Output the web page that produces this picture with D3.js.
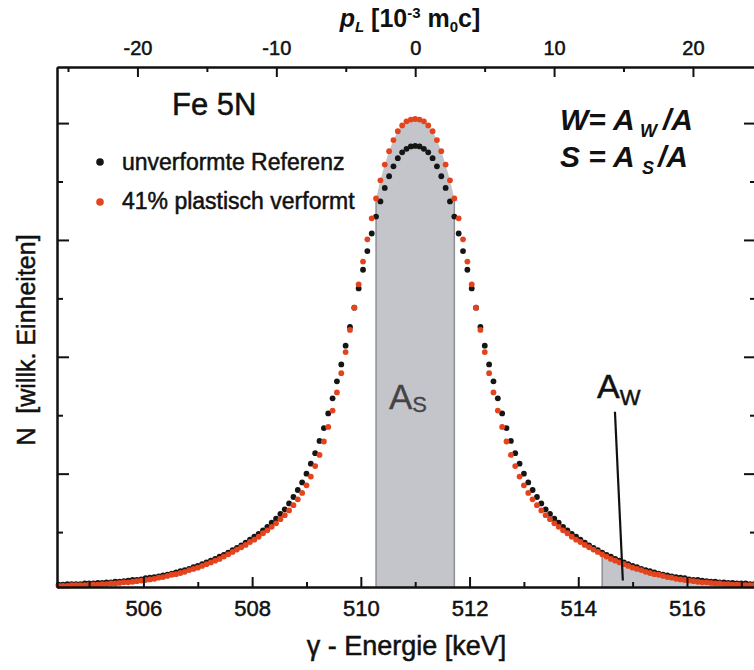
<!DOCTYPE html>
<html>
<head>
<meta charset="utf-8">
<script src="https://cdn.jsdelivr.net/npm/d3@7"></script>
<style>
  body { margin: 0; background: #fff; }
  text { font-family: "Liberation Sans", Arial, sans-serif; }
</style>
</head>
<body>
<div id="chart-area"></div>
<script>
// spectrum channels: energy of the first channel and channel width [keV]
var firstChannel = 504.44, channelWidth = 0.08;

// unverformte Referenz (black dots), one value per channel
var reference = [0.10,0.10,0.11,0.11,0.11,0.11,0.12,0.12,0.12,0.13,0.13,0.14,0.14,
  0.15,0.15,0.16,0.17,0.18,0.18,0.19,0.21,0.22,0.23,0.24,0.26,0.27,0.29,0.31,0.33,0.35,0.37,0.40,0.42,
  0.45,0.48,0.51,0.54,0.58,0.61,0.65,0.69,0.73,0.77,0.82,0.87,0.92,0.97,1.03,1.09,1.16,1.23,1.31,1.39,
  1.49,1.60,1.72,1.85,2.00,2.17,2.35,2.56,2.78,3.03,3.29,3.58,3.87,4.19,4.51,4.84,5.17,5.49,5.81,6.11,
  6.40,6.66,6.89,7.09,7.26,7.40,7.50,7.56,7.60,
  7.61,
  7.60,7.56,7.50,7.40,7.26,7.09,6.89,6.66,6.40,6.11,5.81,5.49,5.17,4.84,4.51,4.19,3.87,3.58,3.29,
  3.03,2.78,2.56,2.35,2.17,2.00,1.85,1.72,1.60,1.49,1.39,1.31,1.23,1.16,1.09,1.03,0.97,0.92,0.87,0.82,
  0.77,0.73,0.69,0.65,0.61,0.58,0.54,0.51,0.48,0.45,0.42,0.40,0.37,0.35,0.33,0.31,0.29,0.27,0.26,0.24,
  0.23,0.22,0.21,0.19,0.18,0.18,0.17,0.16,0.15,0.15,0.14,0.14,0.13,0.13,0.12,0.12,0.12,0.11,0.11];

// 41% plastisch verformt (red dots)
var deformed = [0.08,0.08,0.08,0.09,0.09,0.09,0.09,0.10,0.10,0.10,0.11,0.11,0.12,0.12,0.13,0.14,0.14,
  0.15,0.16,0.17,0.18,0.19,0.20,0.22,0.23,0.25,0.27,0.28,0.30,0.32,0.35,0.37,0.39,0.42,0.45,0.48,0.51,
  0.54,0.58,0.62,0.66,0.70,0.74,0.78,0.83,0.87,0.92,0.98,1.03,1.09,1.15,1.22,1.29,1.37,1.46,1.56,1.67,
  1.80,1.95,2.13,2.32,2.55,2.80,3.08,3.39,3.72,4.08,4.46,4.84,5.24,5.63,6.01,6.37,6.71,7.02,7.29,7.52,
  7.71,7.86,7.96,8.03,8.06,
  8.07,
  8.06,8.03,7.96,7.86,7.71,7.52,7.29,7.02,6.71,6.37,6.01,5.63,5.24,4.84,4.46,4.08,3.72,3.39,3.08,2.80,
  2.55,2.32,2.13,1.95,1.80,1.67,1.56,1.46,1.37,1.29,1.22,1.15,1.09,1.03,0.98,0.92,0.87,0.83,0.78,0.74,
  0.70,0.66,0.62,0.58,0.54,0.51,0.48,0.45,0.42,0.39,0.37,0.35,0.32,0.30,0.28,0.27,0.25,0.23,0.22,0.20,
  0.19,0.18,0.17,0.16,0.15,0.14,0.14,0.13,0.12,0.12,0.11,0.11,0.10,0.10,0.10,0.09,0.09,0.09];

// energy ticks [keV], momentum ticks [10^-3 m0c], counts ticks
var kevMajor = [506, 508, 510, 512, 514, 516];
var kevMinor = [505, 507, 509, 511, 513, 515, 517];
var pMajor = [-20, -10, 0, 10, 20];
var pMinor = [-25, -15, -5, 5, 15];
var nMajor = [2, 4, 6, 8];
var nMinor = [1, 3, 5, 7];

// integration windows [keV]
var sWindow = [510.28, 511.72];
var wWindow = [514.44, 517.24];

var width = 754, height = 670;
var plot = {left: 57, right: 756, top: 67, bottom: 587};
var ink = "#111";

var svg = d3.select("#chart-area")
  .append("svg")
  .attr("width", width)
  .attr("height", height);

var x = d3.scaleLinear()
  .domain([504.41, 517.27])
  .range([plot.left, plot.right]);

// longitudinal momentum p_L = 2 (E - 511) / 511 * 1000
var pOf = e => (e - 511) * 2000 / 511;
var xp = d3.scaleLinear()
  .domain(x.domain().map(pOf))
  .range([plot.left, plot.right]);

var y = d3.scaleLinear()
  .domain([0.06, 8.96])
  .range([plot.bottom, plot.top]);

var channels = deformed.map((d, i) => ({
  e: firstChannel + i * channelWidth,
  red: d,
  black: reference[i]
}));

// grey areas S and W under the deformed spectrum
var area = d3.area()
  .x(d => x(d.e))
  .y0(y(0.06))
  .y1(d => y(d.red));

[sWindow, wWindow].forEach(w => {
  var part = channels.filter(d => d.e >= w[0] - 1e-6 && d.e <= w[1] + 1e-6);
  svg.append("path")
    .datum(part)
    .attr("d", area)
    .attr("fill", "#c3c5ca");
  [part[0], part[part.length - 1]].forEach(d => {
    svg.append("line")
      .attr("x1", x(d.e)).attr("x2", x(d.e))
      .attr("y1", y(0.06)).attr("y2", y(d.red))
      .attr("stroke", "#8d8f94")
      .attr("stroke-width", 1.5);
  });
});

// data points
svg.append("g")
  .selectAll("circle")
  .data(channels)
  .enter()
  .append("circle")
  .attr("cx", d => x(d.e))
  .attr("cy", d => y(d.black))
  .attr("r", 2.9)
  .attr("fill", "#151515");

svg.append("g")
  .selectAll("circle")
  .data(channels)
  .enter()
  .append("circle")
  .attr("cx", d => x(d.e))
  .attr("cy", d => y(d.red))
  .attr("r", 2.9)
  .attr("fill", "#e4441d");

// axes, ticks pointing inwards
function styleAxis(g) {
  g.selectAll("path").attr("stroke", ink).attr("stroke-width", 2);
  g.selectAll("line").attr("stroke", ink).attr("stroke-width", 2);
  g.selectAll("text").attr("fill", ink).attr("stroke", ink).attr("stroke-width", 0.5);
}

svg.append("g")
  .attr("transform", `translate(0, ${plot.bottom})`)
  .call(d3.axisBottom(x).tickValues(kevMinor).tickSize(-5).tickSizeOuter(0).tickFormat(""))
  .call(styleAxis);
svg.append("g")
  .attr("transform", `translate(0, ${plot.bottom})`)
  .call(d3.axisBottom(x).tickValues(kevMajor).tickSize(-10).tickSizeOuter(0).tickPadding(13))
  .call(styleAxis)
  .selectAll("text").attr("font-size", "22px");

svg.append("g")
  .attr("transform", `translate(0, ${plot.top})`)
  .call(d3.axisTop(xp).tickValues(pMinor).tickSize(-5).tickSizeOuter(0).tickFormat(""))
  .call(styleAxis);
svg.append("g")
  .attr("transform", `translate(0, ${plot.top})`)
  .call(d3.axisTop(xp).tickValues(pMajor).tickSize(-10).tickSizeOuter(0).tickPadding(12)
    .tickFormat(d => String(d)))
  .call(styleAxis)
  .selectAll("text").attr("font-size", "20px");

[[d3.axisLeft, plot.left], [d3.axisRight, plot.right]].forEach(a => {
  svg.append("g")
    .attr("transform", `translate(${a[1]}, 0)`)
    .call(a[0](y).tickValues(nMinor).tickSize(-6).tickSizeOuter(0).tickFormat(""))
    .call(styleAxis);
  svg.append("g")
    .attr("transform", `translate(${a[1]}, 0)`)
    .call(a[0](y).tickValues(nMajor).tickSize(-12).tickSizeOuter(0).tickFormat(""))
    .call(styleAxis);
});

function plain(sel) {
  return sel.attr("fill", ink).attr("stroke", ink).attr("stroke-width", 0.5);
}

// axis titles
svg.append("text")
  .attr("x", (plot.left + plot.right) / 2)
  .attr("y", 655)
  .attr("text-anchor", "middle")
  .attr("font-size", "27px")
  .call(plain)
  .text("γ - Energie [keV]");

svg.append("text")
  .attr("transform", `translate(35, 340) rotate(-90)`)
  .attr("text-anchor", "middle")
  .attr("font-size", "25px")
  .call(plain)
  .style("white-space", "pre")
  .text("N  [willk. Einheiten]");

var topTitle = svg.append("text")
  .attr("x", 410)
  .attr("y", 27)
  .attr("text-anchor", "middle")
  .attr("font-size", "25px")
  .attr("font-weight", "bold")
  .attr("fill", ink);
topTitle.append("tspan").attr("font-style", "italic").text("p");
topTitle.append("tspan").attr("font-style", "italic").attr("font-size", "15px").attr("dy", 5).text("L");
topTitle.append("tspan").attr("dy", -5).style("white-space", "pre").text(" [10");
topTitle.append("tspan").attr("font-size", "15px").attr("dy", -9).text("-3");
topTitle.append("tspan").attr("dy", 9).style("white-space", "pre").text(" m");
topTitle.append("tspan").attr("font-size", "15px").attr("dy", 5).text("0");
topTitle.append("tspan").attr("dy", -5).text("c]");

// sample and legend
svg.append("text")
  .attr("x", 172).attr("y", 115)
  .attr("font-size", "31px")
  .call(plain)
  .text("Fe 5N");

var legend = [["unverformte Referenz", "#151515"], ["41% plastisch verformt", "#e4441d"]];
legend.forEach((l, i) => {
  svg.append("circle")
    .attr("cx", 100).attr("cy", 162 + i * 40)
    .attr("r", 3.8)
    .attr("fill", l[1]);
  svg.append("text")
    .attr("x", 122).attr("y", 170 + i * 39)
    .attr("font-size", "23px")
    .call(plain)
    .text(l[0]);
});

// W and S definitions
function formula(yBase, name, sub, xSub, xSlash) {
  var g = svg.append("g")
    .attr("font-size", "30px")
    .attr("font-weight", "bold")
    .attr("font-style", "italic")
    .attr("fill", ink);
  g.append("text").attr("x", 560).attr("y", yBase).style("white-space", "pre").text(name);
  g.append("text").attr("x", xSub).attr("y", yBase + 7).attr("font-size", "18px").text(sub);
  g.append("text").attr("x", xSlash).attr("y", yBase).text("/A");
}
formula(130, "W= A", "W", 640, 663);
formula(167, "S = A", "S", 642, 658);

// area labels
var aS = svg.append("text").attr("x", 389).attr("y", 409).attr("font-size", "35px")
  .attr("fill", "#444").attr("stroke", "#444").attr("stroke-width", 0.3);
aS.append("tspan").text("A");
aS.append("tspan").attr("font-size", "22px").attr("dy", 3).text("S");

var aW = svg.append("text").attr("x", 597).attr("y", 398).attr("font-size", "34px").call(plain);
aW.append("tspan").text("A");
aW.append("tspan").attr("font-size", "22px").attr("dy", 7).text("W");

// pointer into the W area
svg.append("line")
  .attr("x1", x(514.675)).attr("y1", y(3.06))
  .attr("x2", x(514.82)).attr("y2", y(0.17))
  .attr("stroke", ink)
  .attr("stroke-width", 2.2);
</script>
</body>
</html>
